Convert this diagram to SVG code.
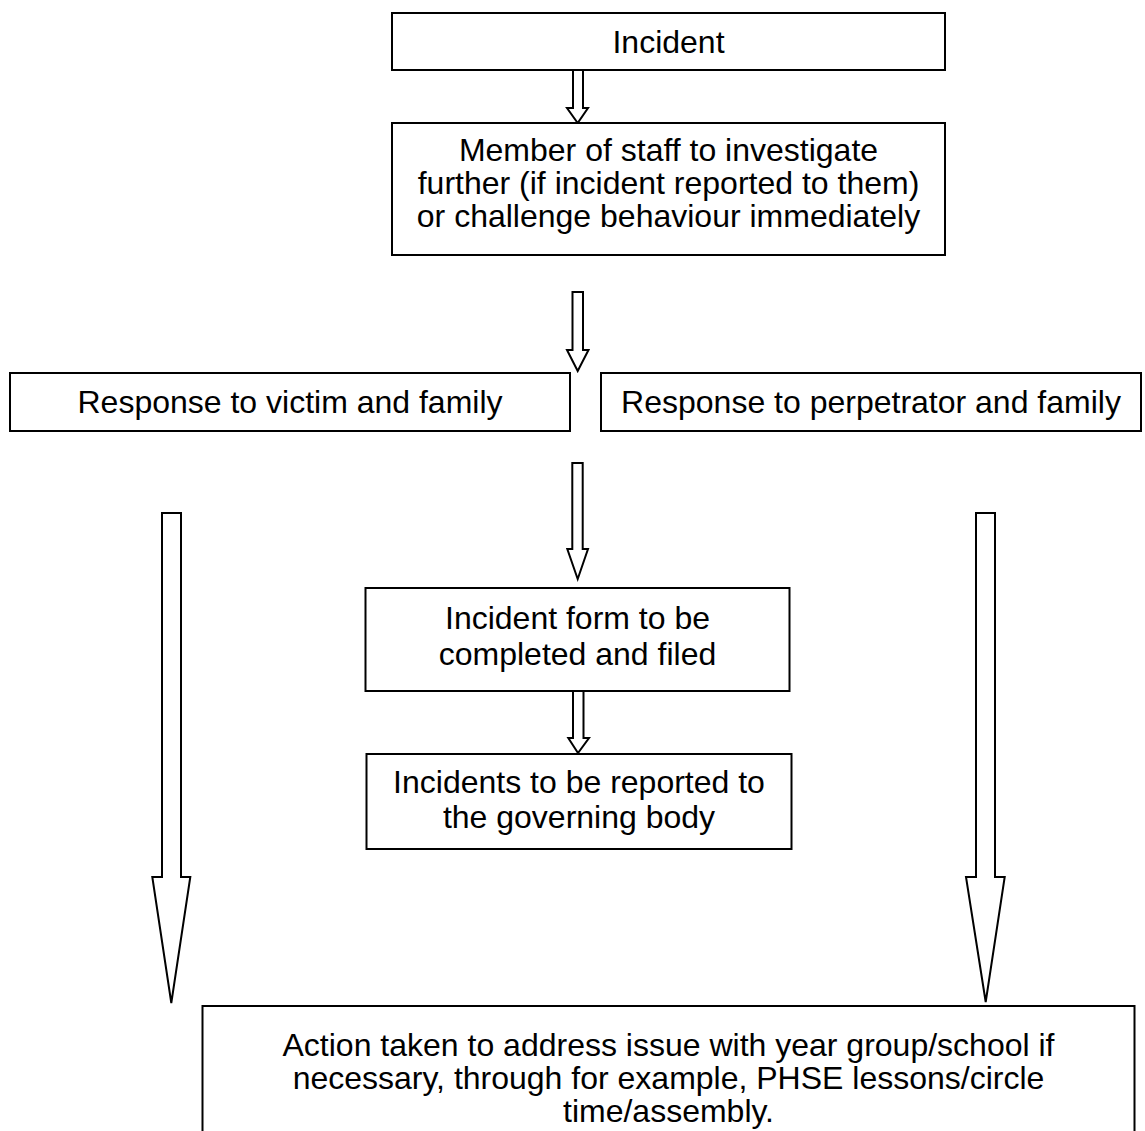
<svg xmlns="http://www.w3.org/2000/svg" width="1145" height="1131" viewBox="0 0 1145 1131">
<style>
.box{fill:#fff;stroke:#000;stroke-width:2}
.arr{fill:#fff;stroke:#000;stroke-width:2;stroke-linejoin:miter}
text{font-family:"Liberation Sans",Arial,sans-serif;font-size:32px;fill:#000;text-anchor:middle}
</style>
<rect width="1145" height="1131" fill="#fff"/>
<g id="connectors">
<polygon class="arr" points="573,70 583,70 583,108 588,108 577.7,123 567,108 573,108"/>
<polygon class="arr" points="572.5,292 583,292 583,350 588.5,350 577.7,371 567,350 572.5,350"/>
<polygon class="arr" points="572.3,463 582.7,463 582.7,549 588,549 577.7,579 567.3,549 572.3,549"/>
<polygon class="arr" points="573,691 583.5,691 583.5,738 589,738 578,753 568.3,738 573,738"/>
<polygon class="arr" points="162,513 181,513 181,877 190.3,877 171.3,1003 152.3,877 162,877"/>
<polygon class="arr" points="976,513 995,513 995,877 1004.7,877 985.7,1002 966,877 976,877"/>
</g>
<g id="incident">
<rect class="box" x="392" y="13" width="553" height="57"/>
<text x="668.5" y="53">Incident</text>
</g>
<g id="staff">
<rect class="box" x="392" y="123" width="553" height="132"/>
<text x="668.5" y="161">Member of staff to investigate</text>
<text x="668.5" y="194">further (if incident reported to them)</text>
<text x="668.5" y="227">or challenge behaviour immediately</text>
</g>
<g id="victim">
<rect class="box" x="10" y="373" width="560" height="58"/>
<text x="290" y="413">Response to victim and family</text>
</g>
<g id="perpetrator">
<rect class="box" x="601" y="373" width="540" height="58"/>
<text x="871" y="413">Response to perpetrator and family</text>
</g>
<g id="form">
<rect class="box" x="365.5" y="588" width="424" height="103"/>
<text x="577.5" y="629">Incident form to be</text>
<text x="577.5" y="665">completed and filed</text>
</g>
<g id="governing">
<rect class="box" x="366.5" y="754" width="425" height="95"/>
<text x="579" y="793">Incidents to be reported to</text>
<text x="579" y="828">the governing body</text>
</g>
<g id="action">
<rect class="box" x="202.5" y="1006" width="932" height="140"/>
<text x="668.5" y="1056">Action taken to address issue with year group/school if</text>
<text x="668.5" y="1089">necessary, through for example, PHSE lessons/circle</text>
<text x="668.5" y="1122">time/assembly.</text>
</g>
</svg>
